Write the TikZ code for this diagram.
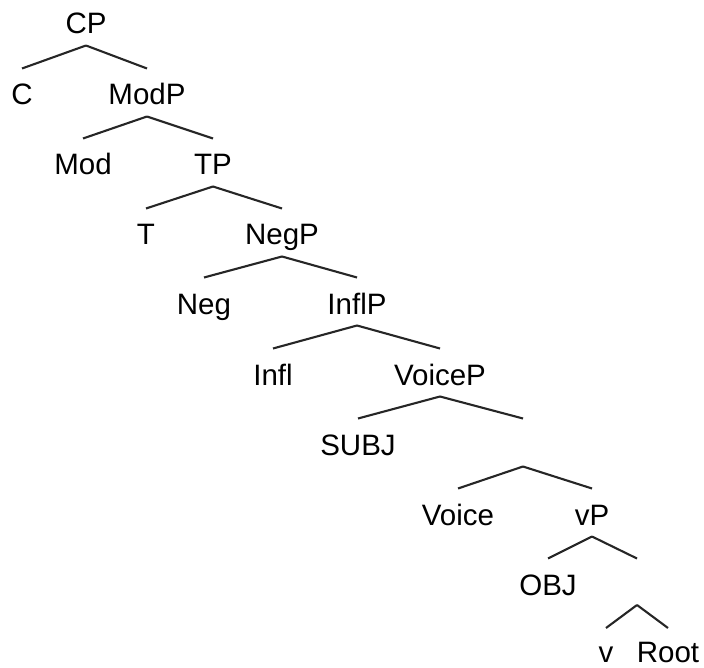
\documentclass[tikz,border=0pt]{standalone}
\usepackage{fontspec}
\setmainfont{Liberation Sans}
\begin{document}
\begin{tikzpicture}[x=1pt,y=-1pt,
  lbl/.style={anchor=base,inner sep=0pt,font=\fontsize{29.5}{34}\selectfont},
  edge/.style={draw=black!85,line width=2.1pt}]
\useasboundingbox (0,0) rectangle (704,668);
% nodes (x = text centre, y = baseline)
\node[lbl] (CP) at (86,34) {CP};
\node[lbl] (C) at (22,105) {C};
\node[lbl] (ModP) at (147,105) {ModP};
\node[lbl] (Mod) at (83,175) {Mod};
\node[lbl] (TP) at (213,175) {TP};
\node[lbl] (T) at (146,245) {T};
\node[lbl] (NegP) at (282,245) {NegP};
\node[lbl] (Neg) at (204,314) {Neg};
\node[lbl] (InflP) at (357,314) {InflP};
\node[lbl] (Infl) at (273,385) {Infl};
\node[lbl] (VoiceP) at (440,385) {VoiceP};
\node[lbl] (SUBJ) at (358,455) {SUBJ};
\node[lbl] (E1) at (523,455) {};
\node[lbl] (Voice) at (458,525) {Voice};
\node[lbl] (vP) at (592,525) {vP};
\node[lbl] (OBJ) at (548,595) {OBJ};
\node[lbl] (E2) at (637,595) {};
\node[lbl] (v) at (606,662) {v};
\node[lbl] (Root) at (668,662) {Root};
% connectors
\foreach \p/\c in {CP/C,CP/ModP,ModP/Mod,ModP/TP,TP/T,TP/NegP,NegP/Neg,NegP/InflP,
  InflP/Infl,InflP/VoiceP,VoiceP/SUBJ,VoiceP/E1,E1/Voice,E1/vP,vP/OBJ,vP/E2}
  \draw[edge] ([yshift=-11.5pt]\p.base) -- ([yshift=36.5pt]\c.base);
\foreach \p/\c in {E2/v,E2/Root}
  \draw[edge] ([yshift=-10pt]\p.base) -- ([yshift=34pt]\c.base);
\end{tikzpicture}
\end{document}
